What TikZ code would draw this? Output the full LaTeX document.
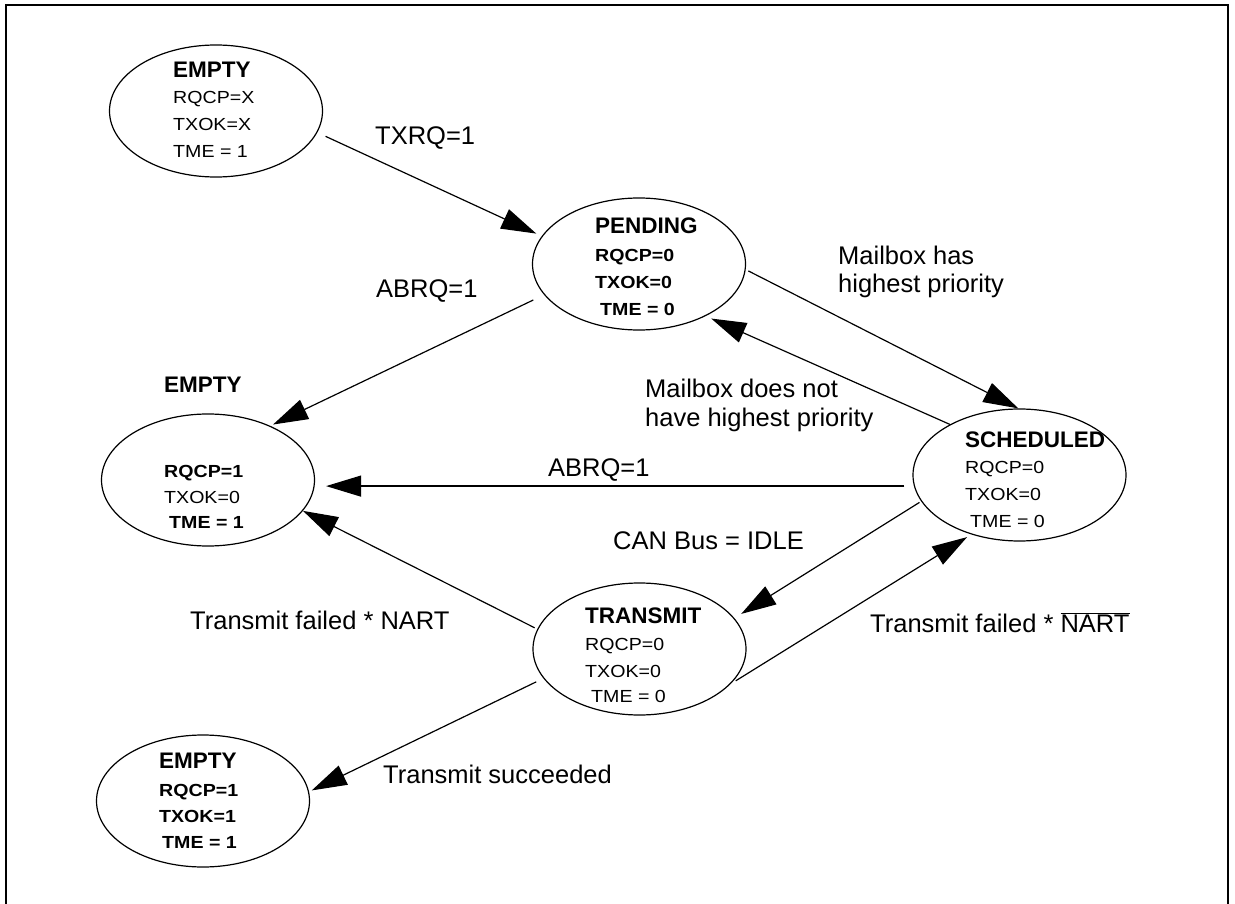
\documentclass[tikz,border=0pt]{standalone}
\usepackage{graphicx}
\usepackage{fontspec}
\setmainfont{Liberation Sans}
\usetikzlibrary{shapes.geometric,arrows.meta}
\newcommand{\ttlfont}{\bfseries\fontsize{22.5}{26}\selectfont}
\newcommand{\lnfont}{\fontsize{17.5}{26}\selectfont}
\newcommand{\lnbfont}{\bfseries\fontsize{17.5}{26}\selectfont}
\newcommand{\lblfont}{\fontsize{25.5}{28}\selectfont}
\newcommand{\sx}[1]{\scalebox{1.12}[1]{#1}}
\begin{document}
\begin{tikzpicture}[x=1pt,y=-1pt,
  st/.style={ellipse,draw,line width=1.2pt,minimum width=213pt,minimum height=132pt,inner sep=0pt},
  ttl/.style={anchor=base west,inner sep=0pt,font=\ttlfont},
  ln/.style={anchor=base west,inner sep=0pt,font=\lnfont},
  lnb/.style={anchor=base west,inner sep=0pt,font=\lnbfont},
  lbl/.style={anchor=base west,inner sep=0pt,font=\lblfont},
  conn/.style={line width=1.2pt,-{Triangle[length=35pt,width=21pt]}}]
\useasboundingbox (0,0) rectangle (1235,904);
% frame
\draw[line width=2.4pt] (6,904) -- (6,5) -- (1228,5) -- (1228,904);
% states
\node[st] (E1) at (216,111) {};
\node[st] (P) at (639,264) {};
\node[st] (E2) at (208,480) {};
\node[st] (S) at (1019.5,475) {};
\node[st] (T) at (639.5,649) {};
\node[st] (E3) at (203,801) {};
% state texts
\node[ttl] (e1t) at (173,78) {EMPTY};
\node[ln] (e1a) at (173,104) {\sx{RQCP=X}};
\node[ln] (e1b) at (173,131) {\sx{TXOK=X}};
\node[ln] (e1c) at (173,158) {\sx{TME = 1}};
\node[ttl] (pt) at (595,234) {PENDING};
\node[lnb] (pa) at (595,262) {\sx{RQCP=0}};
\node[lnb] (pb) at (595,289) {\sx{TXOK=0}};
\node[lnb] (pc) at (600,316) {\sx{TME = 0}};
\node[ttl] (e2t) at (164,392) {EMPTY};
\node[lnb] (e2a) at (164,477) {\sx{RQCP=1}};
\node[ln] (e2b) at (164,503) {\sx{TXOK=0}};
\node[lnb] (e2c) at (169,528) {\sx{TME = 1}};
\node[ttl] (sct) at (965,447) {SCHEDULED};
\node[ln] (sca) at (965,473) {\sx{RQCP=0}};
\node[ln] (scb) at (965,500) {\sx{TXOK=0}};
\node[ln] (scc) at (970,527) {\sx{TME = 0}};
\node[ttl] (tt) at (585,623) {TRANSMIT};
\node[ln] (ta) at (585,650) {\sx{RQCP=0}};
\node[ln] (tb) at (585,677) {\sx{TXOK=0}};
\node[ln] (tc) at (591,702) {\sx{TME = 0}};
\node[ttl] (e3t) at (159,768) {EMPTY};
\node[lnb] (e3a) at (159,796) {\sx{RQCP=1}};
\node[lnb] (e3b) at (159,822) {\sx{TXOK=1}};
\node[lnb] (e3c) at (162,848) {\sx{TME = 1}};
% connectors
\draw[conn,shorten <=9pt,shorten >=6pt] (E1.-12) -- (P.164);
\draw[conn,shorten <=12pt,shorten >=3pt] (P.198) -- (E2.41);
\draw[conn,shorten <=3pt] (P.-3) -- (S.91);
\draw[conn,shorten >=6pt] (S.144) -- (P.-38);
\draw[conn,shorten <=9.5pt,shorten >=11pt] (S.186) -- (S.186 -| E2.east);
\draw[conn,shorten <=2pt,shorten >=8pt] (S.195) -- (T.18);
\draw[conn,shorten <=6pt,shorten >=5pt] (T.-21) -- (S.231);
\draw[conn,shorten <=3pt] (T.169) -- (E2.-18);
\draw[conn,shorten <=8pt,shorten >=3pt] (T.197) -- (E3.5);
% labels
\node[lbl] (l1) at (375,145) {TXRQ=1};
\node[lbl] (l2) at (376,298) {ABRQ=1};
\node[lbl] (l3a) at (838,265) {Mailbox has};
\node[lbl] (l3b) at (838,293) {highest priority};
\node[lbl] (l4a) at (645,397) {Mailbox does not};
\node[lbl] (l4b) at (645,426) {have highest priority};
\node[lbl] (l5) at (548,476) {ABRQ=1};
\node[lbl] (l6) at (613,549) {CAN Bus = IDLE};
\node[lbl] (l7) at (870,632) {Transmit failed * $\overline{\mbox{NART}}$};
\node[lbl] (l8) at (190,629) {Transmit failed * NART};
\node[lbl] (l9) at (383,783) {Transmit succeeded};
\end{tikzpicture}
\end{document}
